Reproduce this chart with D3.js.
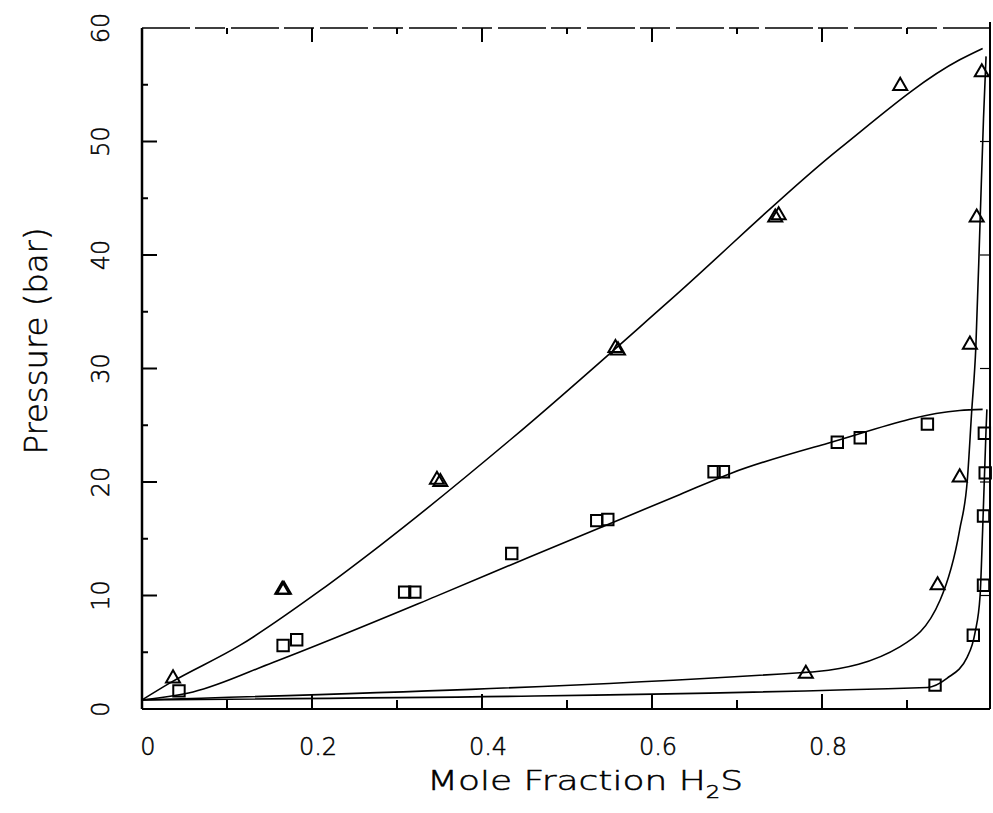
<!DOCTYPE html>
<html>
<head>
<meta charset="utf-8">
<script src="https://cdn.jsdelivr.net/npm/d3@7"></script>
<style>
  body { margin: 0; background: white; }
  text { font-family: "DejaVu Sans", sans-serif; font-weight: 200; fill: black; stroke: black; stroke-width: 0.5px; }
</style>
</head>
<body>
<div id="container"></div>
<script>
// Pressure vs mole fraction H2S, two isotherms (triangles / squares)

const width = 993;
const height = 813;

// measured points, triangles
const triX = [0.0365, 0.165, 0.167, 0.347, 0.351, 0.557, 0.560, 0.745, 0.749, 0.892, 0.988, 0.982, 0.974, 0.962, 0.936, 0.781];
const triP = [2.7, 10.5, 10.5, 20.2, 20.0, 31.8, 31.6, 43.3, 43.5, 54.9, 56.1, 43.3, 32.1, 20.4, 10.9, 3.1];

// measured points, squares
const sqX = [0.0435, 0.166, 0.182, 0.309, 0.321, 0.435, 0.535, 0.548, 0.673, 0.684, 0.818, 0.845, 0.924, 0.991, 0.992, 0.990, 0.990, 0.978, 0.933];
const sqP = [1.6, 5.6, 6.1, 10.3, 10.3, 13.7, 16.6, 16.7, 20.9, 20.9, 23.5, 23.9, 25.1, 24.3, 20.8, 17.0, 10.9, 6.5, 2.1];

// model curves
const triLiqX = [0, 0.033, 0.115, 0.209, 0.28, 0.433, 0.621, 0.821, 0.962, 0.989];
const triLiqP = [0.8, 2.3, 5.6, 10.4, 14.4, 23.7, 36.0, 49.4, 57.2, 58.2];

const sqLiqX = [0, 0.06, 0.154, 0.345, 0.456, 0.633, 0.694, 0.806, 0.962, 0.989];
const sqLiqP = [0.8, 1.5, 4.1, 9.9, 13.4, 18.9, 20.8, 23.4, 26.3, 26.4];

const triVapX = [0, 0.774, 0.794, 0.892, 0.939, 0.962, 0.971, 0.976, 0.981, 0.986, 0.990, 0.993];
const triVapP = [0.8, 3.2, 3.3, 5.5, 9.6, 15.8, 20.2, 26.1, 31.9, 43, 52, 57.5];

const sqVapX = [0, 0.924, 0.947, 0.971, 0.98, 0.986, 0.989, 0.993, 0.994];
const sqVapP = [0.8, 1.9, 2.7, 4.6, 6.7, 10, 15.8, 24.6, 26.4];

const xTicks = [0, 0.2, 0.4, 0.6, 0.8];
const xTickLabels = ["0", "0.2", "0.4", "0.6", "0.8"];
const yTicks = [0, 10, 20, 30, 40, 50, 60];

const x = d3.scaleLinear().domain([0, 1]).range([142, 992]);
const y = d3.scaleLinear().domain([0, 60]).range([709, 28]);

const svg = d3.select("#container")
    .append("svg")
    .attr("width", width)
    .attr("height", height)
    .style("background-color", "white");

const zip = (xs, ps) => xs.map((v, i) => ({ x: v, p: ps[i] }));

// frame
const x0 = x(0), x1 = x(1) - 2, yTop = y(60), yBot = y(0);
svg.append("line").attr("x1", x0).attr("x2", x0).attr("y1", yTop).attr("y2", yBot)
    .attr("stroke", "black").attr("stroke-width", 2.5);
svg.append("line").attr("x1", x0).attr("x2", x1).attr("y1", yBot).attr("y2", yBot)
    .attr("stroke", "black").attr("stroke-width", 2.2);
svg.append("line").attr("x1", x0).attr("x2", x1).attr("y1", yTop).attr("y2", yTop)
    .attr("stroke", "black").attr("stroke-width", 1.5)
    .attr("stroke-dasharray", "48 5 30 6");
svg.append("line").attr("x1", x1).attr("x2", x1).attr("y1", yTop - 6).attr("y2", yBot)
    .attr("stroke", "black").attr("stroke-width", 2);

// ticks (inward)
const minorX = d3.range(0.1, 1, 0.2);
const minorY = d3.range(5, 60, 10);
const tickG = svg.append("g").attr("stroke", "black").attr("stroke-width", 2);

tickG.selectAll(".xb").data(xTicks.slice(1)).join("line")
    .attr("x1", d => x(d)).attr("x2", d => x(d)).attr("y1", yBot).attr("y2", yBot - 15);
tickG.selectAll(".xbm").data(minorX).join("line")
    .attr("x1", d => x(d)).attr("x2", d => x(d)).attr("y1", yBot).attr("y2", yBot - 9);
tickG.selectAll(".xt").data(xTicks.slice(1)).join("line")
    .attr("x1", d => x(d)).attr("x2", d => x(d)).attr("y1", yTop).attr("y2", yTop + 14);
tickG.selectAll(".xtm").data(minorX).join("line")
    .attr("x1", d => x(d)).attr("x2", d => x(d)).attr("y1", yTop).attr("y2", yTop + 6);
tickG.selectAll(".yl").data(yTicks.slice(1, -1)).join("line")
    .attr("x1", x0).attr("x2", x0 + 15).attr("y1", d => y(d)).attr("y2", d => y(d));
tickG.selectAll(".ylm").data(minorY).join("line")
    .attr("x1", x0).attr("x2", x0 + 6).attr("y1", d => y(d)).attr("y2", d => y(d));
tickG.selectAll(".yr").data(yTicks.slice(1, -1)).join("line")
    .attr("x1", x1).attr("x2", x1 - 10).attr("y1", d => y(d)).attr("y2", d => y(d))
    .attr("stroke-width", 1.2);

// tick labels
svg.selectAll(".xlab").data(xTicks).join("text")
    .attr("x", (d, i) => x(d) + 6)
    .attr("y", 755)
    .attr("text-anchor", "middle")
    .style("font-size", "24px")
    .text((d, i) => xTickLabels[i]);

svg.selectAll(".ylab").data(yTicks).join("text")
    .attr("transform", d => `translate(109, ${y(d)}) rotate(-90)`)
    .attr("text-anchor", "middle")
    .style("font-size", "24px")
    .text(d => d);

// axis titles
svg.append("text")
    .attr("x", 427)
    .attr("y", 790)
    .style("font-size", "27px")
    .attr("textLength", 316)
    .attr("lengthAdjust", "spacingAndGlyphs")
    .call(t => {
        t.append("tspan").text("Mole Fraction H");
        t.append("tspan").attr("dy", 8).style("font-size", "17px").text("2");
        t.append("tspan").attr("dy", -8).text("S");
    });

svg.append("text")
    .attr("transform", `translate(47, 341) rotate(-90)`)
    .attr("text-anchor", "middle")
    .style("font-size", "32px")
    .attr("textLength", 227)
    .attr("lengthAdjust", "spacingAndGlyphs")
    .text("Pressure (bar)");

// curves
const line = d3.line()
    .x(d => x(d.x))
    .y(d => y(d.p))
    .curve(d3.curveMonotoneX);

[[triLiqX, triLiqP], [sqLiqX, sqLiqP], [triVapX, triVapP], [sqVapX, sqVapP]].forEach(([xs, ps]) => {
    svg.append("path")
        .attr("d", line(zip(xs, ps)))
        .attr("fill", "none")
        .attr("stroke", "black")
        .attr("stroke-width", 1.6);
});

// markers
svg.selectAll(".tri").data(zip(triX, triP)).join("path")
    .attr("transform", d => `translate(${x(d.x)}, ${y(d.p)})`)
    .attr("d", d3.symbol(d3.symbolTriangle, 85))
    .attr("fill", "none")
    .attr("stroke", "black")
    .attr("stroke-width", 2);

svg.selectAll(".sq").data(zip(sqX, sqP)).join("path")
    .attr("transform", d => `translate(${x(d.x)}, ${y(d.p)})`)
    .attr("d", d3.symbol(d3.symbolSquare, 130))
    .attr("fill", "none")
    .attr("stroke", "black")
    .attr("stroke-width", 2);
</script>
</body>
</html>
